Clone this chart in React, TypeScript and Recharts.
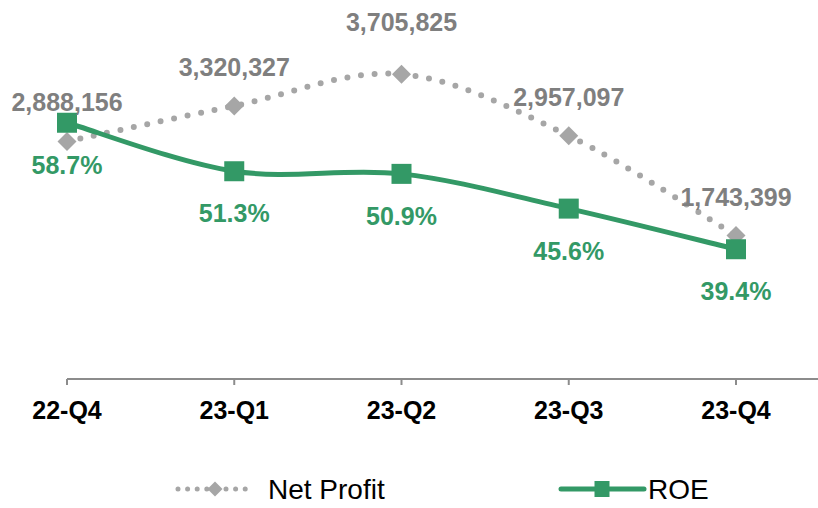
import React from 'react';
import { LineChart, Line, XAxis, YAxis, Legend, LabelList } from 'recharts';

const quarters = ['22-Q4', '23-Q1', '23-Q2', '23-Q3', '23-Q4'];
const netProfit = [2888156, 3320327, 3705825, 2957097, 1743399];
const roe = [58.7, 51.3, 50.9, 45.6, 39.4];

const data = quarters.map((q, i) => ({ quarter: q, netProfit: netProfit[i], roe: roe[i] }));

const GREEN = '#339966';
const GRAY = '#a6a6a6';
const LABEL_GRAY = '#7f7f7f';
const FONT = '"Liberation Sans", Arial, sans-serif';

// Excel-like smoothed line (Catmull-Rom style bezier)
function excelSmooth(context: any) {
  let pts: number[][] = [];
  return {
    areaStart() {},
    areaEnd() {},
    lineStart() {
      pts = [];
    },
    lineEnd() {
      const n = pts.length;
      if (n === 0) return;
      context.moveTo(pts[0][0], pts[0][1]);
      for (let i = 0; i < n - 1; i++) {
        const p0 = pts[Math.max(0, i - 1)];
        const p1 = pts[i];
        const p2 = pts[i + 1];
        const p3 = pts[Math.min(n - 1, i + 2)];
        const c1x = p1[0] + (p2[0] - p0[0]) / 6;
        const c1y = p1[1] + (p2[1] - p0[1]) / 6;
        const c2x = p2[0] - (p3[0] - p1[0]) / 6;
        const c2y = p2[1] - (p3[1] - p1[1]) / 6;
        context.bezierCurveTo(c1x, c1y, c2x, c2y, p2[0], p2[1]);
      }
    },
    point(x: number, y: number) {
      pts.push([+x, +y]);
    },
  };
}

const Diamond = (props: any) => {
  const { cx, cy, index } = props;
  if (cx == null || cy == null) return <g key={`d${index}`} />;
  const r = 9.5;
  return (
    <path
      key={`d${index}`}
      d={`M${cx},${cy - r}L${cx + r},${cy}L${cx},${cy + r}L${cx - r},${cy}Z`}
      fill={GRAY}
    />
  );
};

const Square = (props: any) => {
  const { cx, cy, index } = props;
  if (cx == null || cy == null) return <g key={`s${index}`} />;
  const s = 20;
  return <rect key={`s${index}`} x={cx - s / 2} y={cy - s / 2} width={s} height={s} fill={GREEN} />;
};

const NPLabel = (props: any) => {
  const { x, y, value, index } = props;
  const off = index === 2 ? 43 : 30;
  return (
    <text x={x} y={y - off} textAnchor="middle" fill={LABEL_GRAY} fontSize={25} fontWeight="bold" fontFamily={FONT}>
      {Number(value).toLocaleString('en-US')}
    </text>
  );
};

const ROELabel = (props: any) => {
  const { x, y, value } = props;
  return (
    <text x={x} y={y + 51} textAnchor="middle" fill={GREEN} fontSize={25} fontWeight="bold" fontFamily={FONT}>
      {`${Number(value).toFixed(1)}%`}
    </text>
  );
};

const LegendContent = (props: any) => {
  const payload = props.payload || [];
  const np = payload.find((p: any) => p.dataKey === 'netProfit');
  const r = payload.find((p: any) => p.dataKey === 'roe');
  const ly = 19;
  return (
    <svg width={818} height={40} style={{ display: 'block' }}>
      <line x1={178} y1={ly} x2={252} y2={ly} stroke={GRAY} strokeWidth={5} strokeDasharray="0 9.6" strokeLinecap="round" />
      <path d={`M215,${ly - 7.5}L222.5,${ly}L215,${ly + 7.5}L207.5,${ly}Z`} fill={GRAY} />
      <text x={268} y={ly + 10} fontSize={28} fontFamily={FONT} fill="#000">
        {np ? np.value : 'Net Profit'}
      </text>
      <line x1={561} y1={ly} x2={644} y2={ly} stroke={GREEN} strokeWidth={5} strokeLinecap="round" />
      <rect x={594.5} y={ly - 8} width={15} height={16} fill={GREEN} />
      <text x={648} y={ly + 10} fontSize={28} fontFamily={FONT} fill="#000">
        {r ? r.value : 'ROE'}
      </text>
    </svg>
  );
};

export default function App() {
  return (
    <div style={{ position: 'absolute', left: 0, top: 0, width: 818, height: 508, background: '#fff' }}>
      <LineChart width={818} height={508} data={data} margin={{ top: 50, right: 0, left: 67, bottom: 39 }}>
        <XAxis
          dataKey="quarter"
          padding={{ left: 0, right: 82 }}
          axisLine={{ stroke: '#8c8c8c', strokeWidth: 2 }}
          tickLine={{ stroke: '#8c8c8c', strokeWidth: 2 }}
          tickSize={6}
          tickMargin={16}
          height={50}
          interval={0}
          tick={{ fill: '#000', fontSize: 25, fontWeight: 'bold', fontFamily: FONT }}
        />
        <YAxis yAxisId="np" hide domain={[0, 4000000]} />
        <YAxis yAxisId="roe" hide orientation="right" domain={[19.6, 69.8]} />
        <Legend
          verticalAlign="bottom"
          height={40}
          content={LegendContent}
          wrapperStyle={{ top: 470, left: 0, width: 818, height: 40 }}
        />
        <Line
          yAxisId="np"
          dataKey="netProfit"
          name="Net Profit"
          type={excelSmooth as any}
          stroke={GRAY}
          strokeWidth={6}
          strokeDasharray="0 13.7"
          strokeLinecap="round"
          dot={Diamond}
          activeDot={false}
          isAnimationActive={false}
        >
          <LabelList dataKey="netProfit" content={NPLabel} />
        </Line>
        <Line
          yAxisId="roe"
          dataKey="roe"
          name="ROE"
          type={excelSmooth as any}
          stroke={GREEN}
          strokeWidth={5}
          dot={Square}
          activeDot={false}
          isAnimationActive={false}
        >
          <LabelList dataKey="roe" content={ROELabel} />
        </Line>
      </LineChart>
    </div>
  );
}
